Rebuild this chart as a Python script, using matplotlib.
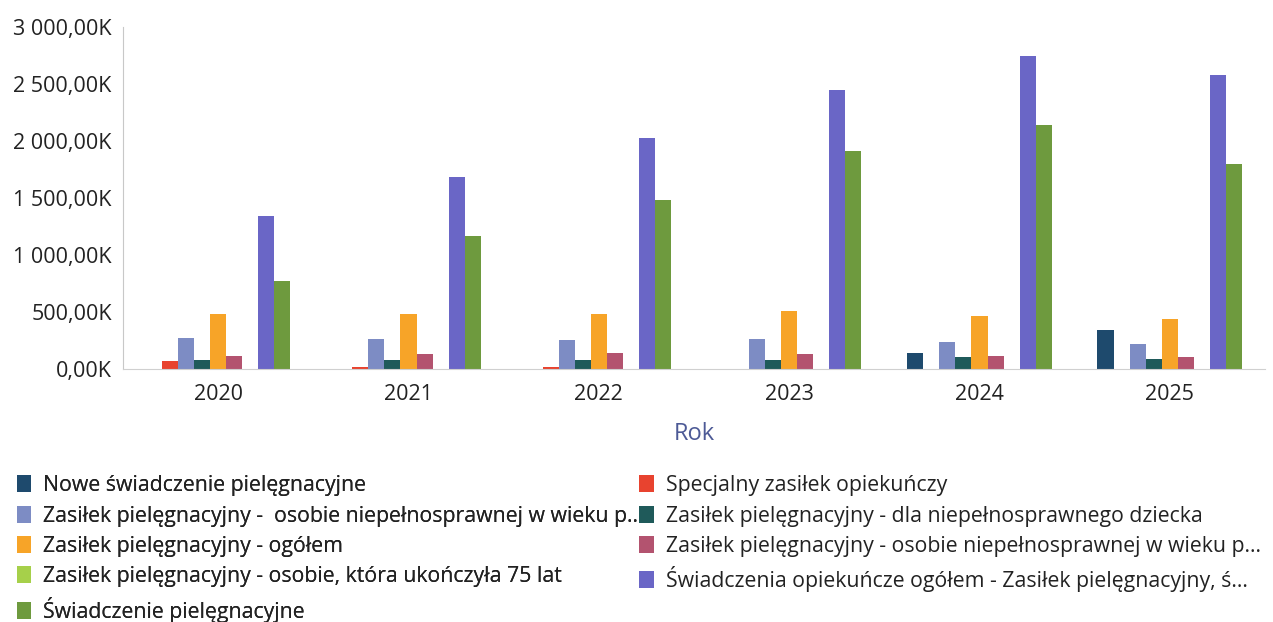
import matplotlib
matplotlib.use("Agg")
import matplotlib.pyplot as plt
import numpy as np
from matplotlib.patches import Patch
from matplotlib.ticker import FuncFormatter

plt.rcParams['font.family'] = ['Open Sans', 'DejaVu Sans']

# ------------------------
# DANE (w tys.)
# ------------------------
lata = ["2020", "2021", "2022", "2023", "2024", "2025"]

nazwy = [
    "Nowe świadczenie pielęgnacyjne",
    "Specjalny zasiłek opiekuńczy",
    "Zasiłek pielęgnacyjny -  osobie niepełnosprawnej w wieku p..",
    "Zasiłek pielęgnacyjny - dla niepełnosprawnego dziecka",
    "Zasiłek pielęgnacyjny - ogółem",
    "Zasiłek pielęgnacyjny - osobie niepełnosprawnej w wieku p...",
    "Zasiłek pielęgnacyjny - osobie, która ukończyła 75 lat",
    "Świadczenia opiekuńcze ogółem - Zasiłek pielęgnacyjny, ś...",
    "Świadczenie pielęgnacyjne",
]

kolory = ["#1e4a6d", "#e8432f", "#7d8cc4", "#1f5a5a", "#f7a428",
          "#b3536f", "#a6d04a", "#6a66c6", "#6e9a3e"]

nowe_swiadczenie = [0, 0, 0, 0, 138, 339]
specjalny_zasilek = [72, 18, 18, 0, 0, 0]
zp_wiek_a = [272, 264, 252, 267, 235, 220]
zp_dziecko = [79, 79, 82, 82, 103, 88]
zp_ogolem = [482, 486, 486, 507, 469, 440]
zp_wiek_b = [117, 132, 138, 135, 117, 105]
zp_75_lat = [0, 0, 0, 0, 0, 0]
opiekuncze_ogolem = [1345, 1684, 2023, 2444, 2745, 2581]
swiadczenie_piel = [772, 1163, 1483, 1916, 2136, 1802]

serie = [nowe_swiadczenie, specjalny_zasilek, zp_wiek_a, zp_dziecko, zp_ogolem,
         zp_wiek_b, zp_75_lat, opiekuncze_ogolem, swiadczenie_piel]

# ------------------------
# WYKRES
# ------------------------
fig = plt.figure(figsize=(12.73, 6.22), dpi=100)
ax = fig.add_axes([0.0966, 0.4068, 0.8971, 0.5498])

x = np.arange(len(lata))
n = len(serie)
szer = 0.76 / n
for i, (vals, kol) in enumerate(zip(serie, kolory)):
    ax.bar(x - 0.38 + szer * (i + 0.5), vals, width=szer, color=kol, edgecolor="none")

ax.set_xlim(-0.5, len(lata) - 0.5)
ax.set_ylim(0, 3000)
ax.set_yticks(np.arange(0, 3001, 500))


def fmt(v, pos):
    s = f"{v:,.2f}".replace(",", " ").replace(".", ",")
    return s + "K"


ax.yaxis.set_major_formatter(FuncFormatter(fmt))
ax.set_xticks(x)
ax.set_xticklabels(lata)
ax.tick_params(axis="both", length=0, labelsize=15.5, colors="#222222")
ax.tick_params(axis="x", pad=11)
ax.tick_params(axis="y", pad=8)

for s in ["top", "right"]:
    ax.spines[s].set_visible(False)
ax.spines["left"].set_color("#c8c8c8")
ax.spines["left"].set_linewidth(0.8)
ax.spines["bottom"].set_color("#d0d0d0")
ax.spines["bottom"].set_linewidth(0.8)

ax.set_xlabel("Rok", fontsize=17, color="#4d5a96", labelpad=12)

# legenda: dwie kolumny, lewa z pozycjami 1,3,5,7,9, prawa z 2,4,6,8
uchwyty = [Patch(facecolor=k, edgecolor="none") for k in kolory]
opcje = dict(loc="upper left", frameon=False, fontsize=15.3, handlelength=0.7,
             handleheight=0.85, handletextpad=0.55, labelspacing=0.44,
             borderaxespad=0, borderpad=0, labelcolor="#222222")
lewa = [0, 2, 4, 6, 8]
prawa = [1, 3, 5, 7]
leg1 = fig.legend([uchwyty[i] for i in lewa], [nazwy[i] for i in lewa],
                  bbox_to_anchor=(0.013, 0.236), **opcje)
fig.add_artist(leg1)
fig.legend([uchwyty[i] for i in prawa], [nazwy[i] for i in prawa],
           bbox_to_anchor=(0.502, 0.236), **opcje)

fig.savefig("out.png", dpi=100)
